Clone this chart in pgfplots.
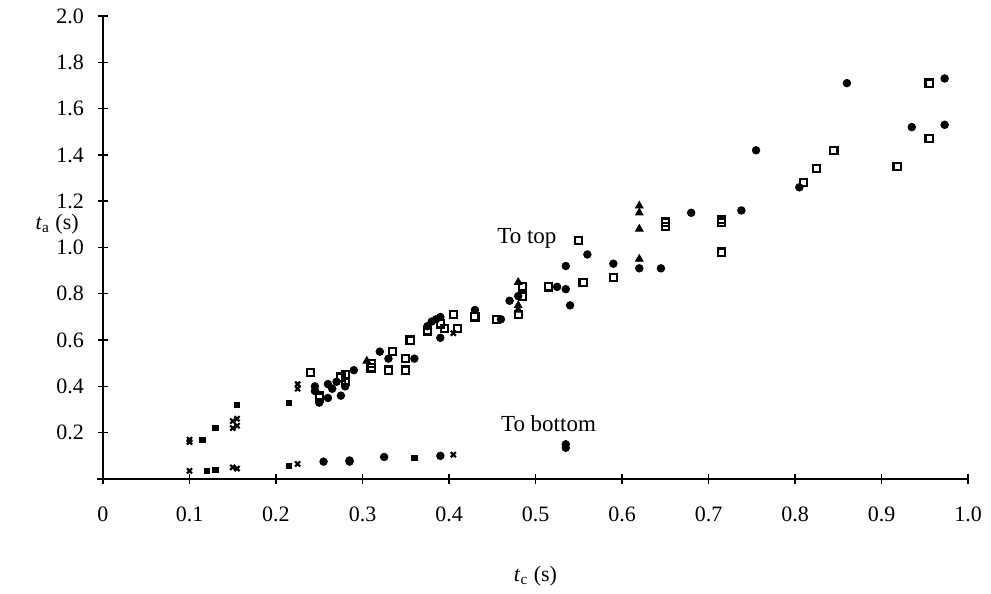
\documentclass[border=0pt]{standalone}
\usepackage{pgfplots}
\pgfplotsset{compat=1.18}
\usepackage{fontspec}
\setmainfont{Liberation Serif}
\begin{document}
\begin{tikzpicture}[x=1pt,y=1pt]
\path[use as bounding box] (-51.5pt,-57.5pt) rectangle (444pt,239.5pt);
\begin{axis}[
  scale only axis, width=432.5pt, height=231.5pt,
  xmin=0, xmax=1.0, ymin=0, ymax=2.0,
  axis lines*=left, axis line style={line width=0.8pt},
  clip=false,
  tick align=center, major tick length=5pt,
  tick style={line width=0.7pt, black},
  xtick={0,0.1,...,1.0},
  xticklabels={0,0.1,0.2,0.3,0.4,0.5,0.6,0.7,0.8,0.9,1.0},
  ytick={0.2,0.4,...,2.0},
  yticklabels={0.2,0.4,0.6,0.8,1.0,1.2,1.4,1.6,1.8,2.0},
  ticklabel style={font=\fontsize{11}{13}\selectfont},
  xticklabel style={yshift=-8pt},
  yticklabel style={xshift=-3.5pt},
  /pgf/number format/assume math mode=true,
]
\draw[line width=0.8pt] (axis cs:-0.007,0) -- (axis cs:0,0);
% filled circles
\addplot[only marks, mark=*, mark size=1.9pt, black] coordinates {
(0.245,0.40) (0.245,0.38) (0.25,0.33) (0.26,0.41) (0.26,0.35) (0.265,0.39)
(0.27,0.42) (0.275,0.36) (0.28,0.40) (0.29,0.47) (0.32,0.55) (0.33,0.52)
(0.36,0.52) (0.375,0.66) (0.38,0.68) (0.385,0.69) (0.39,0.70) (0.39,0.61)
(0.43,0.73) (0.46,0.69) (0.47,0.77) (0.48,0.79) (0.525,0.83) (0.535,0.92)
(0.535,0.82) (0.54,0.75) (0.56,0.97) (0.59,0.93) (0.62,0.91) (0.645,0.91)
(0.68,1.15) (0.738,1.16) (0.755,1.42) (0.805,1.26) (0.86,1.71) (0.935,1.52)
(0.973,1.73) (0.973,1.53)
(0.255,0.075) (0.285,0.08) (0.285,0.075) (0.325,0.095) (0.39,0.10)
(0.535,0.15) (0.535,0.135)
};
% open squares
\addplot[only marks, mark=square, mark size=1.8pt, black, mark options={line width=1.1pt}] coordinates {
(0.24,0.46) (0.25,0.36) (0.25,0.35) (0.275,0.44) (0.28,0.45) (0.28,0.42)
(0.31,0.50) (0.31,0.48) (0.335,0.55) (0.33,0.47) (0.35,0.47) (0.35,0.52)
(0.355,0.60) (0.375,0.64) (0.39,0.67) (0.395,0.65) (0.405,0.71) (0.41,0.65)
(0.43,0.70) (0.455,0.69) (0.485,0.83) (0.485,0.79) (0.48,0.71) (0.515,0.83)
(0.55,1.03) (0.555,0.85) (0.59,0.87) (0.65,1.11) (0.65,1.09) (0.715,1.12)
(0.715,1.11) (0.715,0.98) (0.81,1.28) (0.825,1.34) (0.845,1.42) (0.918,1.35)
(0.955,1.71) (0.955,1.47)
};
% triangles
\addplot[only marks, mark=triangle*, mark size=2.2pt, black] coordinates {
(0.305,0.51) (0.48,0.85) (0.48,0.75) (0.48,0.73)
(0.62,1.18) (0.62,1.15) (0.62,1.08) (0.62,0.95)
};
% crosses
\addplot[only marks, mark=x, mark size=1.8pt, black, mark options={line width=1.1pt}] coordinates {
(0.10,0.16) (0.10,0.17) (0.15,0.22) (0.15,0.25) (0.155,0.23) (0.155,0.26)
(0.225,0.39) (0.225,0.41) (0.405,0.63)
(0.10,0.035) (0.15,0.05) (0.155,0.045) (0.225,0.065) (0.405,0.105)
};
% small filled squares
\addplot[only marks, mark=square*, mark size=1.3pt, black] coordinates {
(0.115,0.17) (0.13,0.22) (0.155,0.32) (0.215,0.33)
(0.12,0.035) (0.13,0.04) (0.215,0.055) (0.36,0.09)
};
\node[font=\fontsize{11.5}{13}\selectfont] at (axis cs:0.49,1.04) {To top};
\node[font=\fontsize{11.5}{13}\selectfont] at (axis cs:0.515,0.24) {To bottom};
\node[font=\fontsize{11}{13}\selectfont] at (axis cs:-0.053,1.1) {\textit{t}\textsubscript{a} (s)};
\node[font=\fontsize{11}{13}\selectfont] at (axis cs:0.5,-0.42) {\textit{t}\textsubscript{c} (s)};
\end{axis}
\end{tikzpicture}
\end{document}
